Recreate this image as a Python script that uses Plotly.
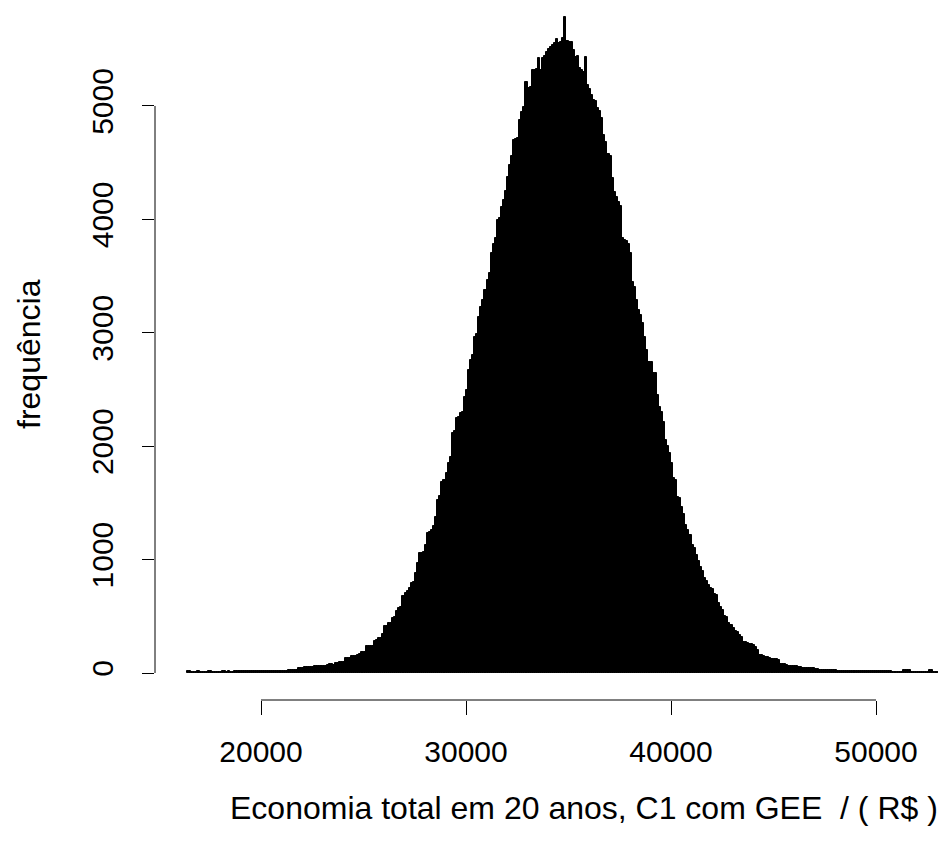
import plotly.graph_objects as go

# histogram: 100-wide bins starting at 16400, counts
bin_start = 16400
bin_width = 100
counts = [
    18, 18, 6, 6, 6, 18, 6, 6, 6, 6,                                # 16400
    18, 18, 8, 8, 8, 8, 8, 20, 20, 8,                               # 17400
    20, 8, 8, 14, 14, 14, 15, 15, 15, 16,                           # 18400
    16, 16, 16, 17, 17, 17, 18, 18, 18, 19,                         # 19400
    19, 19, 20, 20, 20, 21, 21, 22, 22, 23,                         # 20400
    23, 24, 25, 26, 45, 48, 48, 50, 50, 52,                         # 21400
    52, 55, 62, 64, 58, 59, 62, 62, 70, 80,                         # 22400
    80, 70, 88, 90, 94, 95, 98, 132, 134, 136,                      # 23400
    147, 148, 150, 162, 164, 182, 185, 235, 235, 238,               # 24400
    240, 280, 290, 309, 312, 340, 411, 415, 441, 445,               # 25400
    485, 490, 544, 573, 580, 681, 705, 720, 750, 794,               # 26400
    800, 882, 970, 1058, 1060, 1065, 1131, 1235, 1240, 1261,        # 27400
    1300, 1376, 1526, 1560, 1684, 1702, 1760, 1852, 1905, 2116,     # 28400
    2130, 2249, 2260, 2293, 2300, 2434, 2496, 2672, 2760, 2800,     # 29400
    2963, 2990, 3139, 3228, 3290, 3380, 3466, 3527, 3704, 3780,     # 30400
    3836, 3995, 4010, 4109, 4171, 4250, 4374, 4480, 4560, 4700,     # 31400
    4710, 4720, 4877, 4950, 4991, 5212, 5159, 5170, 5317, 5320,     # 32400
    5330, 5423, 5317, 5423, 5440, 5476, 5500, 5520, 5540, 5556,     # 33400
    5591, 5556, 5560, 5600, 5785, 5570, 5564, 5560, 5494, 5432,     # 34400
    5440, 5335, 5320, 5300, 5432, 5185, 5150, 5097, 5053, 5040,     # 35400
    4982, 4960, 4894, 4744, 4683, 4580, 4560, 4365, 4242, 4200,     # 36400
    4150, 4120, 3836, 3818, 3810, 3780, 3704, 3448, 3404, 3289,     # 37400
    3200, 3157, 3086, 2963, 2848, 2745, 2745, 2646, 2646, 2451,     # 38400
    2346, 2300, 2213, 2055, 2000, 1940, 1852, 1720, 1700, 1552,     # 39400
    1540, 1464, 1400, 1305, 1260, 1217, 1129, 1100, 1040, 990,      # 40400
    935, 900, 838, 810, 776, 750, 740, 700, 690, 617,               # 41400
    580, 556, 500, 494, 441, 420, 397, 370, 362, 335,               # 42400
    320, 275, 272, 265, 258, 255, 250, 229, 200, 159,               # 43400
    159, 150, 141, 140, 135, 124, 124, 120, 118, 79,                # 44400
    78, 76, 72, 62, 62, 60, 60, 58, 57, 50,                         # 45400
    44, 44, 43, 42, 42, 40, 38, 36, 25, 25,                         # 46400
    25, 24, 24, 24, 23, 23, 23, 22, 22, 22,                         # 47400
    22, 21, 21, 21, 21, 20, 20, 20, 20, 20,                         # 48400
    19, 19, 19, 19, 19, 18, 18, 18, 18, 18,                         # 49400
    18, 17, 17, 17, 12, 12, 12, 12, 12, 28,                         # 50400
    28, 28, 28, 12, 12, 12, 12, 12, 12, 12,                         # 51400
    12, 12, 28, 28, 12, 12, 12, 12, 12, 12,                         # 52400
    12,                                                             # 53400
]

x_ticks = [20000, 30000, 40000, 50000]
y_ticks = [0, 1000, 2000, 3000, 4000, 5000]

x_title = "Economia total em 20 anos, C1 com GEE  / ( R$ )"
y_title = "frequência"

centers = [bin_start + bin_width * (i + 0.5) for i in range(len(counts))]

FONT = "Liberation Sans, Arial, sans-serif"

fig = go.Figure(go.Bar(
    x=centers, y=counts, width=bin_width,
    marker=dict(color="black", line=dict(color="black", width=1)),
    hoverinfo="skip",
))

# R style axes: line only from first to last tick
fig.add_shape(type="line", xref="x", yref="paper",
              x0=x_ticks[0], x1=x_ticks[-1], y0=0, y1=0,
              line=dict(color="black", width=1))
fig.add_shape(type="line", xref="paper", yref="y",
              x0=0, x1=0, y0=y_ticks[0], y1=y_ticks[-1],
              line=dict(color="black", width=1))

fig.add_annotation(text=x_title, xref="paper", yref="paper",
                   x=0.5424, y=0, yshift=-108, showarrow=False,
                   xanchor="center", yanchor="middle",
                   font=dict(family=FONT, size=32, color="black"))
fig.add_annotation(text=y_title, xref="paper", yref="paper",
                   x=0, xshift=-126, y=0.5, showarrow=False, textangle=-90,
                   xanchor="center", yanchor="middle",
                   font=dict(family=FONT, size=32, color="black"))

# the page body has an 8px margin, so the figure is shifted to compensate
fig.update_layout(
    width=946, height=856,
    margin=dict(l=147, r=8, t=0, b=164),
    paper_bgcolor="white", plot_bgcolor="white",
    bargap=0, showlegend=False,
    font=dict(family=FONT, size=30, color="black"),
)
fig.update_xaxes(
    range=[14829, 53414], showgrid=False, zeroline=False, showline=False,
    tickvals=x_ticks, ticktext=[str(v) for v in x_ticks],
    ticks="outside", ticklen=14, tickwidth=1, tickcolor="black",
    ticklabelstandoff=11,
)
fig.update_yaxes(
    range=[-238, 5864], showgrid=False, zeroline=False, showline=False,
    tickvals=y_ticks, ticktext=[str(v) for v in y_ticks], tickangle=-90,
    ticks="outside", ticklen=12, tickwidth=1, tickcolor="black",
    ticklabelstandoff=17,
)

fig.write_html("out.html")
